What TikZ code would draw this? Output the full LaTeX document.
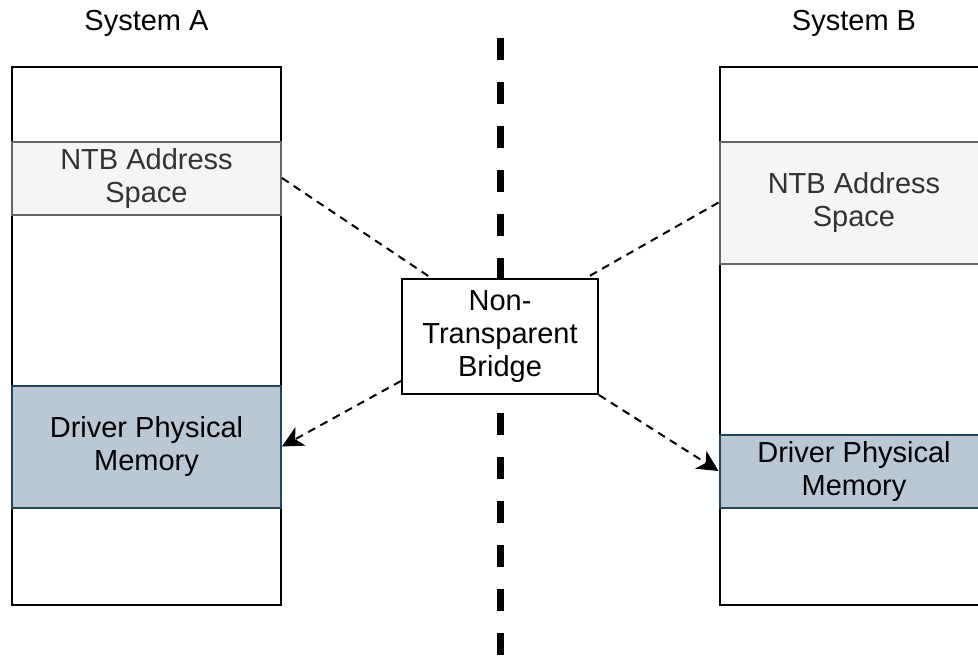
\documentclass[tikz,border=0pt]{standalone}
\usepackage{fontspec}
\setmainfont{Liberation Sans}
\usetikzlibrary{calc,arrows.meta}

\definecolor{ntbfill}{HTML}{F5F5F5}
\definecolor{ntbline}{HTML}{666666}
\definecolor{ntbtext}{HTML}{333333}
\definecolor{memfill}{HTML}{BAC8D3}
\definecolor{memline}{HTML}{23445D}

\begin{document}
\begin{tikzpicture}[x=0.5pt, y=-0.5pt,
        every node/.style={font=\fontsize{14.5}{16.5}\selectfont, align=center, inner sep=0pt},
        sysbox/.style={draw=black, line width=1pt, minimum width=134.5pt, minimum height=269pt},
        ntbband/.style={draw=ntbline, fill=ntbfill, text=ntbtext, line width=1pt, minimum width=134.5pt},
        memband/.style={draw=memline, fill=memfill, line width=1pt, minimum width=134.5pt},
        link/.style={dash pattern=on 4pt off 3pt, line width=1pt},
        divider/.style={dash pattern=on 11pt off 11pt, line width=3.5pt}]
    \clip (0,0) rectangle (978,655);

    % system A
    \node (sysA) at (146.5,23) {System A};
    \node[sysbox] (boxA) at (146.5,336) {};
    \node[ntbband, minimum height=36.5pt] (ntbA) at (146.5,178) {NTB Address\\Space};
    \node[memband, minimum height=61pt] (memA) at (146.5,446.5) {Driver Physical\\Memory};

    % system B
    \node (sysB) at (854,23) {System B};
    \node[sysbox] (boxB) at (854,336) {};
    \node[ntbband, minimum height=61pt] (ntbB) at (854,202.5) {NTB Address\\Space};
    \node[memband, minimum height=36.5pt] (memB) at (854,471) {Driver Physical\\Memory};

    % bridge and divider
    \node[draw, line width=1pt, fill=white, minimum width=98pt, minimum height=57.5pt] (bridge) at (500,336.5) {Non-\\Transparent\\Bridge};
    \coordinate (divtop) at (500,38);
    \coordinate (divbot) at (500,655);
    \draw[divider] (divtop) -- (bridge.north);
    \draw[divider] (divbot) -- (bridge.south);

    % mappings
    \draw[link] (ntbA.east) -- ($(bridge.north west)!0.153!(bridge.north east)$);
    \draw[link] (ntbB.west) -- ($(bridge.north west)!0.934!(bridge.north east)$);
    \draw[link, -{Stealth[length=10.5pt, width=10.5pt, inset=3pt]}] ($(bridge.north west)!0.88!(bridge.south west)$) -- (memA.east);
    \draw[link, -{Stealth[length=10.5pt, width=10.5pt, inset=3pt]}] (bridge.south east) -- (memB.west);
\end{tikzpicture}
\end{document}
